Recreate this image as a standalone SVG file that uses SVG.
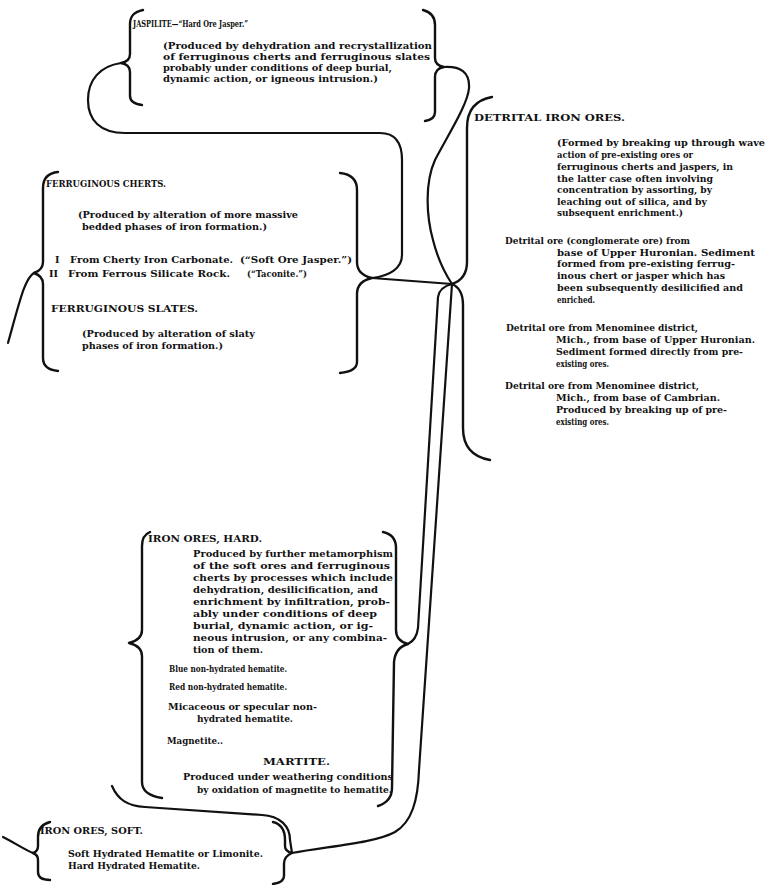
<svg xmlns="http://www.w3.org/2000/svg" width="767" height="885" viewBox="0 0 767 885">
<style>
text { font-family: "DejaVu Serif", "Liberation Serif", serif; font-weight: bold; font-size: 9.5px; fill: #111; }
.t { font-size: 10px; }
.s { font-size: 8.8px; }
.b { fill: none; stroke: #111; stroke-width: 2.4; stroke-linecap: round; stroke-linejoin: round; }
.c { fill: none; stroke: #111; stroke-width: 2.2; stroke-linecap: round; stroke-linejoin: round; }
</style>
<rect width="767" height="885" fill="#fff"/>

<g id="connectors">
  <path class="c" d="M121,63 C100,66 88,80 88,100 C88,120 100,133 125,133 L380,133 C395,133 402,143 402,160 L402,255 C402,268 390,276 372,278"/>
  <path class="c" d="M444,67 C460,66 470,72 469,88 C468,104 448,135 435,160 C425,182 426,215 433,240 C438,260 444,272 452,284"/>
  <path class="c" d="M372,278 L452,284"/>
  <path class="c" d="M34,273 C25,278 20,300 8,343"/>
  <path class="c" d="M452,284 C444,286 439,290 438,297 L418,628 C417,636 414,641 408,644"/>
  <path class="c" d="M452,284 L419,770 C418,800 412,822 395,832 C375,843 330,846 292,853"/>
  <path class="c" d="M112,786 C118,800 128,806 145,807 L262,815 C280,816 290,826 290,840 L292,853"/>
  <path class="c" d="M33,853 C25,850 15,843 3,837"/>
</g>

<g id="jaspilite">
  <path class="b" d="M143,10 C134,12 130,16 130,24 L130,54 C130,59 127,62 121,63 C127,64 130,67 130,72 L130,96 C130,101 134,104 142,105"/>
  <path class="b" d="M423,10 C431,12 435,17 435,25 L435,58 C435,63 438,66 444,67 C438,68 435,72 435,77 L435,112 C435,117 432,120 425,121"/>
  <text class="t" x="133" y="27" textLength="115" lengthAdjust="spacingAndGlyphs">JASPILITE—“Hard Ore Jasper.”</text>
  <text x="163" y="49" textLength="269" lengthAdjust="spacingAndGlyphs">(Produced by dehydration and recrystallization</text>
  <text x="163" y="60" textLength="267" lengthAdjust="spacingAndGlyphs">of ferruginous cherts and ferruginous slates</text>
  <text x="163" y="71" textLength="229" lengthAdjust="spacingAndGlyphs">probably under conditions of deep burial,</text>
  <text x="163" y="82" textLength="215" lengthAdjust="spacingAndGlyphs">dynamic action, or igneous intrusion.)</text>
</g>

<g id="cherts">
  <path class="b" d="M58,172 C48,173 43,178 43,188 L43,262 C43,268 40,271 34,273 C40,275 43,278 43,284 L43,358 C43,366 48,370 58,371"/>
  <path class="b" d="M340,173 C350,174 357,179 357,190 L357,262 C357,271 363,276 372,278 C363,280 357,285 357,294 L357,362 C357,369 350,372 340,373"/>
  <text class="t" x="46" y="187" textLength="120" lengthAdjust="spacingAndGlyphs">FERRUGINOUS CHERTS.</text>
  <text x="78" y="218" textLength="220" lengthAdjust="spacingAndGlyphs">(Produced by alteration of more massive</text>
  <text x="82" y="230" textLength="185" lengthAdjust="spacingAndGlyphs">bedded phases of iron formation.)</text>
  <text x="55" y="263">I</text>
  <text x="70" y="263" textLength="163" lengthAdjust="spacingAndGlyphs">From Cherty Iron Carbonate.</text>
  <text x="240" y="263" textLength="112" lengthAdjust="spacingAndGlyphs">(“Soft Ore Jasper.”)</text>
  <text x="49" y="277" textLength="9" lengthAdjust="spacingAndGlyphs">II</text>
  <text x="68" y="277" textLength="162" lengthAdjust="spacingAndGlyphs">From Ferrous Silicate Rock.</text>
  <text class="s" x="247" y="277" textLength="60" lengthAdjust="spacingAndGlyphs">(“Taconite.”)</text>
  <text class="t" x="51" y="312" textLength="147" lengthAdjust="spacingAndGlyphs">FERRUGINOUS SLATES.</text>
  <text x="82" y="337" textLength="173" lengthAdjust="spacingAndGlyphs">(Produced by alteration of slaty</text>
  <text x="82" y="349" textLength="141" lengthAdjust="spacingAndGlyphs">phases of iron formation.)</text>
</g>

<g id="detrital">
  <path class="b" d="M492,97 C475,100 467,110 467,128 L467,262 C467,275 461,281 452,284"/>
  <path class="b" d="M452,284 C459,287 463,293 463,305 L463,428 C463,447 473,457 490,460"/>
  <text class="t" x="474" y="121" textLength="151" lengthAdjust="spacingAndGlyphs">DETRITAL IRON ORES.</text>
  <text x="557" y="146" textLength="208" lengthAdjust="spacingAndGlyphs">(Formed by breaking up through wave</text>
  <text x="557" y="158" textLength="136" lengthAdjust="spacingAndGlyphs">action of pre-existing ores or</text>
  <text x="557" y="170" textLength="176" lengthAdjust="spacingAndGlyphs">ferruginous cherts and jaspers, in</text>
  <text x="557" y="182" textLength="156" lengthAdjust="spacingAndGlyphs">the latter case often involving</text>
  <text x="557" y="193" textLength="155" lengthAdjust="spacingAndGlyphs">concentration by assorting, by</text>
  <text x="557" y="205" textLength="150" lengthAdjust="spacingAndGlyphs">leaching out of silica, and by</text>
  <text x="557" y="216" textLength="126" lengthAdjust="spacingAndGlyphs">subsequent enrichment.)</text>
  <text x="505" y="244" textLength="185" lengthAdjust="spacingAndGlyphs">Detrital ore (conglomerate ore) from</text>
  <text x="557" y="256" textLength="198" lengthAdjust="spacingAndGlyphs">base of Upper Huronian.  Sediment</text>
  <text x="557" y="267" textLength="178" lengthAdjust="spacingAndGlyphs">formed from pre-existing ferrug-</text>
  <text x="557" y="279" textLength="168" lengthAdjust="spacingAndGlyphs">inous chert or jasper which has</text>
  <text x="557" y="291" textLength="186" lengthAdjust="spacingAndGlyphs">been subsequently desilicified and</text>
  <text class="s" x="557" y="303" textLength="38" lengthAdjust="spacingAndGlyphs">enriched.</text>
  <text x="506" y="331" textLength="192" lengthAdjust="spacingAndGlyphs">Detrital ore from Menominee district,</text>
  <text x="556" y="343" textLength="199" lengthAdjust="spacingAndGlyphs">Mich., from base of Upper Huronian.</text>
  <text x="556" y="355" textLength="187" lengthAdjust="spacingAndGlyphs">Sediment formed directly from pre-</text>
  <text class="s" x="556" y="367" textLength="53" lengthAdjust="spacingAndGlyphs">existing ores.</text>
  <text x="505" y="389" textLength="194" lengthAdjust="spacingAndGlyphs">Detrital ore from Menominee district,</text>
  <text x="556" y="401" textLength="164" lengthAdjust="spacingAndGlyphs">Mich., from base of Cambrian.</text>
  <text x="556" y="413" textLength="171" lengthAdjust="spacingAndGlyphs">Produced by breaking up of pre-</text>
  <text class="s" x="556" y="425" textLength="53" lengthAdjust="spacingAndGlyphs">existing ores.</text>
</g>

<g id="iron-ores-hard">
  <path class="b" d="M150,532 C145,534 142,539 142,546 L142,630 C142,637 137,641 129,643 C137,645 142,649 142,656 L142,782 C142,791 149,796 162,798"/>
  <path class="b" d="M383,532 C392,534 396,539 396,548 L396,630 C396,638 400,642 408,644 C400,646 395,652 394,662 L392,788 C392,797 387,803 378,806"/>
  <text class="t" x="148" y="542" textLength="114" lengthAdjust="spacingAndGlyphs">IRON ORES, HARD.</text>
  <text x="193" y="557" textLength="200" lengthAdjust="spacingAndGlyphs">Produced by further metamorphism</text>
  <text x="193" y="569" textLength="197" lengthAdjust="spacingAndGlyphs">of the soft ores and ferruginous</text>
  <text x="193" y="581" textLength="200" lengthAdjust="spacingAndGlyphs">cherts by processes which include</text>
  <text x="193" y="593" textLength="185" lengthAdjust="spacingAndGlyphs">dehydration, desilicification, and</text>
  <text x="193" y="605" textLength="197" lengthAdjust="spacingAndGlyphs">enrichment by infiltration, prob-</text>
  <text x="193" y="617" textLength="184" lengthAdjust="spacingAndGlyphs">ably under conditions of deep</text>
  <text x="193" y="629" textLength="180" lengthAdjust="spacingAndGlyphs">burial, dynamic action, or ig-</text>
  <text x="193" y="641" textLength="194" lengthAdjust="spacingAndGlyphs">neous intrusion, or any combina-</text>
  <text x="193" y="653" textLength="70" lengthAdjust="spacingAndGlyphs">tion of them.</text>
  <text class="s" x="169" y="672" textLength="118" lengthAdjust="spacingAndGlyphs">Blue non-hydrated hematite.</text>
  <text class="s" x="169" y="690" textLength="118" lengthAdjust="spacingAndGlyphs">Red non-hydrated hematite.</text>
  <text x="168" y="710" textLength="149" lengthAdjust="spacingAndGlyphs">Micaceous or specular non-</text>
  <text x="197" y="722" textLength="96" lengthAdjust="spacingAndGlyphs">hydrated hematite.</text>
  <text x="167" y="744" textLength="56" lengthAdjust="spacingAndGlyphs">Magnetite..</text>
  <text class="t" x="263" y="765" textLength="67" lengthAdjust="spacingAndGlyphs">MARTITE.</text>
  <text x="183" y="780" textLength="210" lengthAdjust="spacingAndGlyphs">Produced under weathering conditions</text>
  <text x="197" y="793" textLength="195" lengthAdjust="spacingAndGlyphs">by oxidation of magnetite to hematite.</text>
</g>

<g id="iron-ores-soft">
  <path class="b" d="M50,822 C42,824 38,829 38,837 L38,846 C38,850 36,852 33,853 C36,854 38,856 38,860 L38,872 C38,877 42,880 50,880"/>
  <path class="b" d="M273,822 C281,824 285,830 285,840 L285,846 C285,850 288,852 292,853 C287,855 284,859 284,864 L284,876 C284,880 280,883 273,884"/>
  <text class="t" x="40" y="834" textLength="103" lengthAdjust="spacingAndGlyphs">IRON ORES, SOFT.</text>
  <text x="68" y="857" textLength="195" lengthAdjust="spacingAndGlyphs">Soft Hydrated Hematite or Limonite.</text>
  <text x="68" y="869" textLength="132" lengthAdjust="spacingAndGlyphs">Hard Hydrated Hematite.</text>
</g>
</svg>
